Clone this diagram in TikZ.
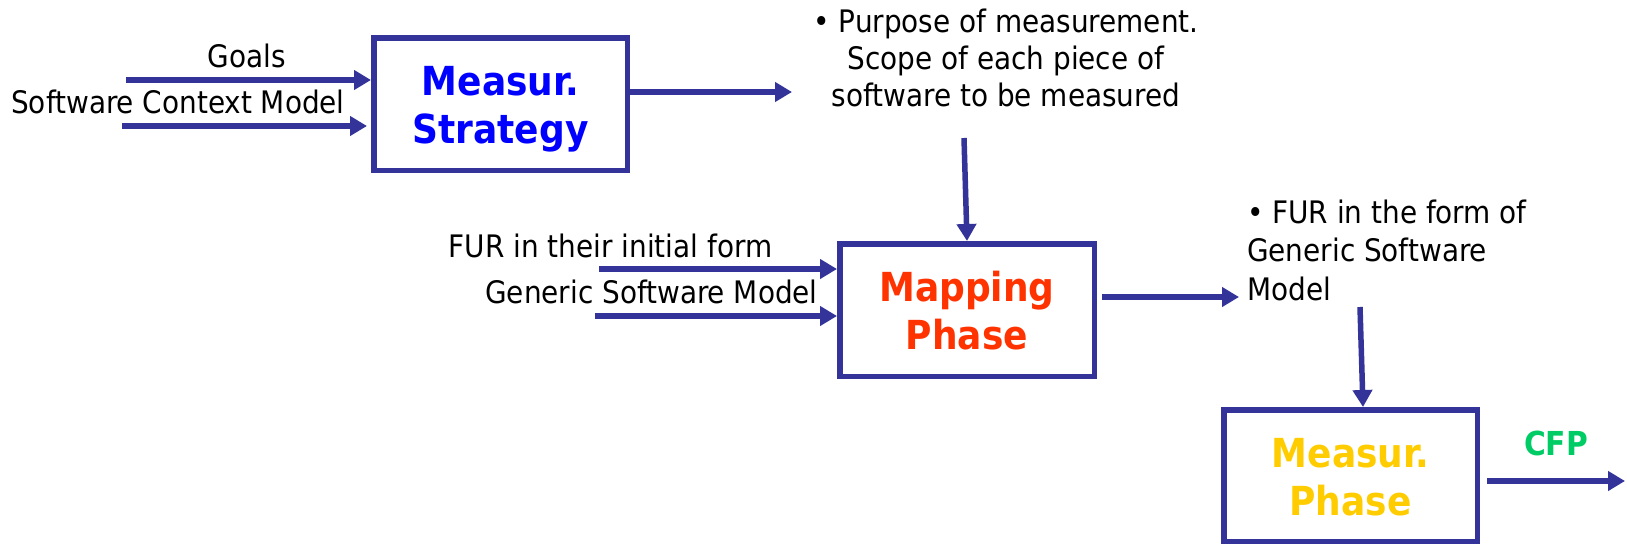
\documentclass[tikz,border=0pt]{standalone}
\usepackage{fontspec}
\setmainfont{DejaVu Sans Condensed}
\usetikzlibrary{arrows.meta}
\definecolor{framecol}{RGB}{51,51,153}
\definecolor{stratcol}{RGB}{0,0,255}
\definecolor{mapcol}{RGB}{255,51,0}
\definecolor{meascol}{RGB}{255,204,0}
\definecolor{cfpcol}{RGB}{0,204,102}
% fixed first-line height and last-line depth for the box titles
\newcommand\topstrut{\rule{0pt}{0.8em}}
\newcommand\botstrut{\rule[-0.25em]{0pt}{0pt}}
\tikzset{
  phasebox/.style={draw=framecol, line width=5.5pt, fill=white, inner sep=0pt},
  phasetitle/.style={inner sep=0pt, align=center,
    font=\fontsize{40}{48}\selectfont\bfseries},
  lbl/.style={inner sep=0pt, font=\fontsize{31}{37}\selectfont},
  flow/.style={draw=framecol, line width=5.5pt,
    -{Triangle[length=17pt,width=19pt]}},
}
\begin{document}
\begin{tikzpicture}[x=1pt,y=-1pt]
\useasboundingbox (0,0) rectangle (1627,544);

% phase boxes
\node[phasebox, minimum width=253.5pt, minimum height=132.5pt] (strat) at (500.5,104) {};
\node[phasebox, minimum width=254.5pt, minimum height=132.5pt] (map) at (967,310) {};
\node[phasebox, minimum width=253.5pt, minimum height=131.5pt] (meas) at (1350.5,475.5) {};

% box titles
\node[phasetitle, text=stratcol] (stratT) at (500.5,108)
  {\topstrut Measur.\\Strategy\botstrut};
\node[phasetitle, text=mapcol] (mapT) at (967,314)
  {\topstrut Mapping\\Phase\botstrut};
\node[phasetitle, text=meascol] (measT) at (1350.5,480)
  {\topstrut Measur.\\Phase\botstrut};

% input labels
\node[lbl, anchor=base] (goals) at (247,67) {Goals};
\node[lbl, anchor=base] (scm) at (178,113) {Software Context Model};
\node[lbl, anchor=base] (furi) at (610.5,257) {FUR in their initial form};
\node[lbl, anchor=base] (gsm) at (651.5,303) {Generic Software Model};

% output labels
\node[lbl, align=center] (purp) at (1006,58.4)
  {• Purpose of measurement.\\Scope of each piece of\\software to be measured};
\node[lbl, align=left, anchor=north west, font=\fontsize{31}{38.5}\selectfont]
  (furf) at (1247,199.4)
  {• FUR in the form of\\Generic Software\\Model};
\node[inner sep=0pt, anchor=base, text=cfpcol,
  font=\fontsize{33}{40}\selectfont\bfseries] (cfp) at (1556,455) {CFP};

% free ends of the connectors
\coordinate (g0) at (126,80);
\coordinate (s0) at (122,126);
\coordinate (f0) at (599,269);
\coordinate (m0) at (595,316);
\coordinate (p1) at (792,92);
\coordinate (p2) at (964,138);
\coordinate (r1) at (1239,297);
\coordinate (r2) at (1360,307);
\coordinate (c0) at (1487,481);
\coordinate (c1) at (1625,481);

% connectors
\draw[flow] (g0) -- (g0 -| strat.west);
\draw[flow] (s0) -- ([xshift=-4pt]s0 -| strat.west);
\draw[flow] (strat.east |- p1) -- (p1);
\draw[flow] (p2) -- ([xshift=3pt]p2 |- map.north);
\draw[flow] (f0) -- (f0 -| map.west);
\draw[flow] (m0) -- (m0 -| map.west);
\draw[flow] ([xshift=5pt]map.east |- r1) -- (r1);
\draw[flow] (r2) -- ([xshift=3pt]r2 |- meas.north);
\draw[flow] (c0) -- (c1);
\end{tikzpicture}
\end{document}
